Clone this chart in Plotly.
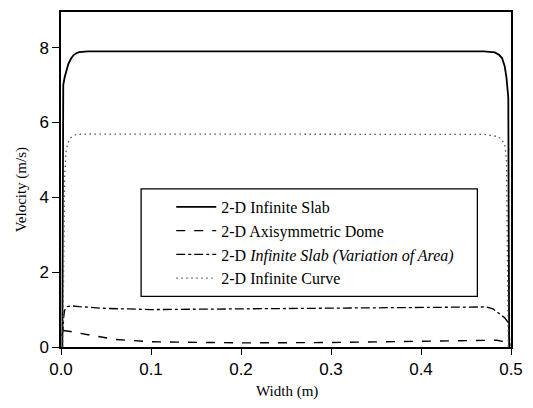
import plotly.graph_objects as go

# ---- data ----
slab_x = [0.0015, 0.002, 0.0025, 0.004, 0.006, 0.008, 0.011, 0.014, 0.017, 0.02, 0.03,
          0.1, 0.2, 0.3, 0.4, 0.47, 0.482, 0.487, 0.490, 0.493, 0.495, 0.497, 0.4975, 0.498]
slab_y = [0.0, 3.5, 7.0, 7.2, 7.4, 7.55, 7.7, 7.8, 7.85, 7.88, 7.9,
          7.9, 7.89, 7.89, 7.9, 7.9, 7.87, 7.8, 7.72, 7.5, 7.19, 6.66, 3.0, 0.0]

dome_x = [0.002, 0.005, 0.009, 0.02, 0.043, 0.061, 0.1, 0.2, 0.3, 0.4, 0.45, 0.484, 0.495, 0.498]
dome_y = [0.44, 0.44, 0.42, 0.37, 0.27, 0.20, 0.14, 0.11, 0.12, 0.16, 0.18, 0.18, 0.13, 0.0]

area_x = [0.001, 0.002, 0.003, 0.004, 0.007, 0.011, 0.02, 0.05, 0.1, 0.2, 0.3, 0.4,
          0.472, 0.48, 0.487, 0.493, 0.497, 0.498, 0.499]
area_y = [0.3, 0.4, 0.8, 0.98, 1.08, 1.1, 1.08, 1.03, 1.0, 1.02, 1.04, 1.06,
          1.07, 1.02, 0.9, 0.78, 0.65, 0.35, 0.0]

curve_x = [0.002, 0.003, 0.004, 0.0055, 0.0075, 0.011, 0.017, 0.03, 0.1, 0.2, 0.3, 0.4,
           0.47, 0.486, 0.493, 0.495, 0.496, 0.497]
curve_y = [0.0, 2.5, 4.5, 5.2, 5.45, 5.6, 5.68, 5.69, 5.69, 5.69, 5.69, 5.69,
           5.68, 5.62, 5.43, 5.0, 2.5, 0.0]

x_ticks = [0.0, 0.1, 0.2, 0.3, 0.4, 0.5]
y_ticks = [0, 2, 4, 6, 8]

names = ["2-D Infinite Slab", "2-D Axisymmetric Dome",
         "2-D <i>Infinite Slab (Variation of Area)</i>", "2-D Infinite Curve"]

fig = go.Figure()
fig.add_trace(go.Scatter(x=slab_x, y=slab_y, mode="lines", name=names[0],
                         line=dict(color="black", width=1.8, dash="solid")))
fig.add_trace(go.Scatter(x=dome_x, y=dome_y, mode="lines", name=names[1],
                         line=dict(color="black", width=1.4, dash="dash")))
fig.add_trace(go.Scatter(x=area_x, y=area_y, mode="lines", name=names[2],
                         line=dict(color="black", width=1.3, dash="dashdot")))
fig.add_trace(go.Scatter(x=curve_x, y=curve_y, mode="lines", name=names[3],
                         line=dict(color="#555555", width=1.3, dash="1.5px,3.5px")))

tickfont = dict(family="Liberation Sans, Arial, sans-serif", size=17, color="black")
serif = "Liberation Serif, Times New Roman, serif"

fig.update_layout(
    width=533, height=408,
    margin=dict(l=61, r=17, t=10, b=61),
    paper_bgcolor="white", plot_bgcolor="white",
    showlegend=True,
    legend=dict(x=0.245, y=0.469, xanchor="left", yanchor="top",
                bgcolor="rgba(0,0,0,0)", borderwidth=0,
                font=dict(family=serif, size=16, color="black"),
                itemwidth=40),
    xaxis=dict(range=[0, 0.5], tickvals=x_ticks, tickformat=".1f",
               showgrid=False, zeroline=False,
               showline=True, linecolor="black", linewidth=1.5, mirror=True,
               ticks="outside", ticklen=6, tickwidth=1.3, tickcolor="black",
               tickfont=tickfont),
    yaxis=dict(range=[0, 8.95], tickvals=y_ticks,
               showgrid=False, zeroline=False,
               showline=True, linecolor="black", linewidth=1.5, mirror=True,
               ticks="outside", ticklen=7, tickwidth=1.3, tickcolor="black",
               tickfont=tickfont),
    shapes=[dict(type="rect", xref="paper", yref="paper",
                 x0=(142 - 61) / 455, x1=(482 - 61) / 455,
                 y0=(347 - 296) / 337, y1=(347 - 188) / 337,
                 line=dict(color="black", width=1.3), fillcolor="rgba(0,0,0,0)")],
    annotations=[
        dict(text="Velocity (m/s)", xref="paper", yref="paper",
             x=(22 - 61) / 455, y=(347 - 189) / 337, textangle=-90,
             showarrow=False, xanchor="center", yanchor="middle",
             font=dict(family=serif, size=15, color="black")),
        dict(text="Width (m)", xref="paper", yref="paper",
             x=(290 - 61) / 455, y=(347 - 392) / 337,
             showarrow=False, xanchor="center", yanchor="middle",
             font=dict(family=serif, size=15, color="black")),
    ],
)

fig.write_html("out.html")
